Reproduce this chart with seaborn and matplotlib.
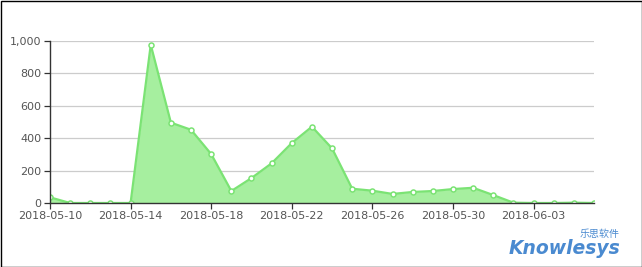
import matplotlib
matplotlib.use("Agg")
import matplotlib.pyplot as plt
import matplotlib.dates as mdates
from matplotlib.ticker import FuncFormatter, FixedLocator
from matplotlib.patches import Rectangle
import seaborn as sns
import pandas as pd

dates = pd.date_range("2018-05-10", "2018-06-06", freq="D")
values = [35, 0, 0, 0, 0, 977, 496, 452, 302, 74, 154, 245, 370, 471,
          337, 88, 76, 56, 68, 74, 86, 94, 49, 2, 0, 0, 2, 0]
tick_dates = ["2018-05-10", "2018-05-14", "2018-05-18", "2018-05-22",
              "2018-05-26", "2018-05-30", "2018-06-03"]
y_ticks = [0, 200, 400, 600, 800, 1000]

df = pd.DataFrame({"date": dates, "value": values})

sns.set_theme(style="white")
plt.rcParams['font.family'] = ['DejaVu Sans', 'Noto Sans CJK SC']

fig = plt.figure(figsize=(6.42, 2.67), dpi=100)
ax = fig.add_axes([50/642, 1-203/267, (594-50)/642, (203-41)/267])

line_c = "#7be374"
fill_c = "#a6ef9f"
ax.fill_between(df["date"], df["value"], 0, color=fill_c, alpha=1, linewidth=0, zorder=2)
sns.lineplot(data=df, x="date", y="value", ax=ax, color=line_c, linewidth=1.6,
             marker="o", markersize=3.6, markerfacecolor="white",
             markeredgecolor=line_c, markeredgewidth=1.1, zorder=3)

ax.set_xlim(dates[0], dates[-1])
ax.set_ylim(0, 1000)
ax.xaxis.set_major_locator(FixedLocator([mdates.date2num(pd.Timestamp(d)) for d in tick_dates]))
ax.xaxis.set_major_formatter(mdates.DateFormatter("%Y-%m-%d"))
ax.set_yticks(y_ticks)
ax.yaxis.set_major_formatter(FuncFormatter(lambda v, p: f"{int(v):,}"))
ax.set_xlabel("")
ax.set_ylabel("")

ax.grid(axis="y", color="#cccccc", linewidth=0.9, zorder=0)
ax.grid(axis="x", visible=False)
ax.set_axisbelow(True)
for s in ["top", "right"]:
    ax.spines[s].set_visible(False)
for s in ["left", "bottom"]:
    ax.spines[s].set_color("#333333")
    ax.spines[s].set_linewidth(1.0)
    ax.spines[s].set_zorder(4)
ax.tick_params(axis="both", which="major", length=4, width=0.9, color="#333333",
               labelsize=8, labelcolor="#555555", pad=2, bottom=True, left=True)

# border
fig.add_artist(Rectangle((0.5/642, 0.5/267), 1-1/642, 1-1/267, transform=fig.transFigure,
                         fill=False, edgecolor="#000000", linewidth=1.0))

# watermark
fig.text(509/642, 1-254/267, "Knowlesys", color="#4a8ad0", fontsize=13.5,
         fontweight="bold", fontstyle="italic", ha="left", va="baseline")
fig.text(580/642, 1-229/267, "乐思软件", color="#4a8ad0", fontsize=7.2,
         family=["Noto Sans CJK SC"], ha="left", va="top")

fig.savefig("out.png", dpi=100)
